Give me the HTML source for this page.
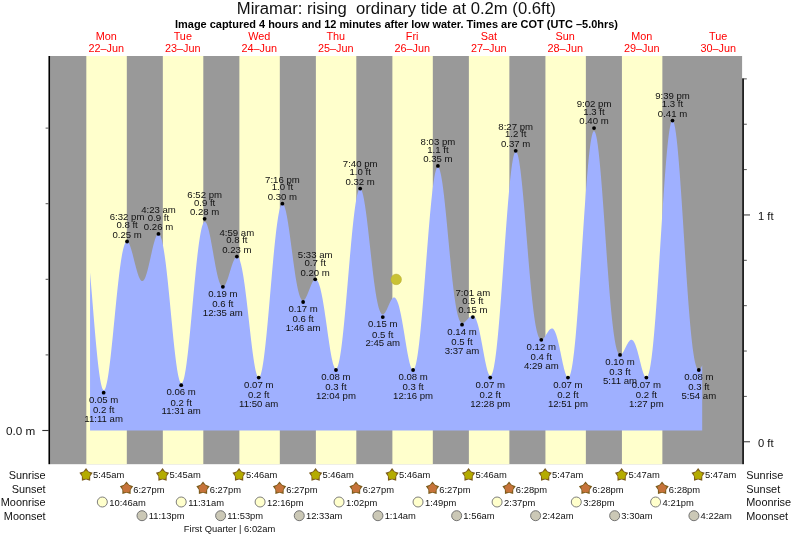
<!DOCTYPE html>
<html><head><meta charset="utf-8"><title>Miramar tide times</title>
<style>html,body{margin:0;padding:0;background:#fff}svg{display:block}text{font-family:"Liberation Sans",Arial,Helvetica,sans-serif}</style></head><body>
<svg width="793" height="537" viewBox="0 0 793 537">
<rect x="0" y="0" width="793" height="537" fill="#fff"/>
<rect x="50.3" y="56.0" width="691.8" height="408.2" fill="#999"/>
<rect x="86.33" y="56.0" width="40.48" height="408.2" fill="#ffffcc"/>
<rect x="162.83" y="56.0" width="40.48" height="408.2" fill="#ffffcc"/>
<rect x="239.38" y="56.0" width="40.43" height="408.2" fill="#ffffcc"/>
<rect x="315.88" y="56.0" width="40.43" height="408.2" fill="#ffffcc"/>
<rect x="392.38" y="56.0" width="40.43" height="408.2" fill="#ffffcc"/>
<rect x="468.88" y="56.0" width="40.48" height="408.2" fill="#ffffcc"/>
<rect x="545.43" y="56.0" width="40.43" height="408.2" fill="#ffffcc"/>
<rect x="621.93" y="56.0" width="40.43" height="408.2" fill="#ffffcc"/>
<polygon points="90.05,430.50 90.05,272.60 90.55,278.44 91.05,284.40 91.55,290.43 92.05,296.53 92.55,302.66 93.05,308.79 93.55,314.89 94.05,320.93 94.55,326.89 95.05,332.73 95.55,338.43 96.05,343.95 96.55,349.27 97.05,354.36 97.55,359.19 98.05,363.75 98.55,368.00 99.05,371.94 99.55,375.52 100.05,378.75 100.55,381.60 101.05,384.06 101.55,386.11 102.05,387.76 102.55,388.99 103.05,389.80 103.55,390.18 104.05,390.15 104.55,389.71 105.05,388.89 105.55,387.67 106.05,386.07 106.55,384.11 107.05,381.80 107.55,379.14 108.05,376.17 108.55,372.89 109.05,369.34 109.55,365.52 110.05,361.46 110.55,357.18 111.05,352.71 111.55,348.07 112.05,343.30 112.55,338.40 113.05,333.41 113.55,328.36 114.05,323.26 114.55,318.15 115.05,313.04 115.55,307.97 116.05,302.96 116.55,298.03 117.05,293.20 117.55,288.49 118.05,283.92 118.55,279.52 119.05,275.30 119.55,271.28 120.05,267.47 120.55,263.88 121.05,260.54 121.55,257.44 122.05,254.61 122.55,252.04 123.05,249.75 123.55,247.74 124.05,246.01 124.55,244.56 125.05,243.40 125.55,242.51 126.05,241.91 126.55,241.57 127.05,241.50 127.55,241.67 128.05,242.09 128.55,242.72 129.05,243.57 129.55,244.61 130.05,245.83 130.55,247.21 131.05,248.74 131.55,250.40 132.05,252.16 132.55,254.01 133.05,255.93 133.55,257.90 134.05,259.90 134.55,261.91 135.05,263.90 135.55,265.86 136.05,267.78 136.55,269.62 137.05,271.37 137.55,273.02 138.05,274.55 138.55,275.95 139.05,277.19 139.55,278.28 140.05,279.21 140.55,279.95 141.05,280.51 141.55,280.88 142.05,281.06 142.55,281.05 143.05,280.83 143.55,280.40 144.05,279.77 144.55,278.94 145.05,277.91 145.55,276.69 146.05,275.31 146.55,273.76 147.05,272.06 147.55,270.23 148.05,268.29 148.55,266.24 149.05,264.12 149.55,261.93 150.05,259.70 150.55,257.44 151.05,255.18 151.55,252.94 152.05,250.73 152.55,248.58 153.05,246.51 153.55,244.53 154.05,242.67 154.55,240.95 155.05,239.37 155.55,237.97 156.05,236.75 156.55,235.73 157.05,234.93 157.55,234.36 158.05,234.03 158.55,233.94 159.05,234.13 159.55,234.58 160.05,235.31 160.55,236.33 161.05,237.63 161.55,239.22 162.05,241.11 162.55,243.28 163.05,245.73 163.55,248.47 164.05,251.48 164.55,254.75 165.05,258.28 165.55,262.06 166.05,266.06 166.55,270.28 167.05,274.70 167.55,279.29 168.05,284.05 168.55,288.95 169.05,293.96 169.55,299.06 170.05,304.23 170.55,309.45 171.05,314.68 171.55,319.90 172.05,325.08 172.55,330.20 173.05,335.22 173.55,340.13 174.05,344.89 174.55,349.47 175.05,353.85 175.55,358.01 176.05,361.92 176.55,365.56 177.05,368.91 177.55,371.95 178.05,374.66 178.55,377.02 179.05,379.02 179.55,380.66 180.05,381.91 180.55,382.78 181.05,383.26 181.55,383.34 182.05,383.02 182.55,382.31 183.05,381.22 183.55,379.74 184.05,377.88 184.55,375.66 185.05,373.09 185.55,370.18 186.05,366.95 186.55,363.41 187.05,359.58 187.55,355.49 188.05,351.15 188.55,346.58 189.05,341.82 189.55,336.88 190.05,331.79 190.55,326.57 191.05,321.25 191.55,315.86 192.05,310.42 192.55,304.95 193.05,299.49 193.55,294.05 194.05,288.66 194.55,283.35 195.05,278.14 195.55,273.05 196.05,268.11 196.55,263.33 197.05,258.74 197.55,254.35 198.05,250.19 198.55,246.27 199.05,242.60 199.55,239.20 200.05,236.08 200.55,233.25 201.05,230.72 201.55,228.51 202.05,226.60 202.55,225.02 203.05,223.75 203.55,222.80 204.05,222.18 204.55,221.87 205.05,221.86 205.55,222.15 206.05,222.73 206.55,223.58 207.05,224.70 207.55,226.07 208.05,227.67 208.55,229.49 209.05,231.50 209.55,233.70 210.05,236.06 210.55,238.56 211.05,241.17 211.55,243.88 212.05,246.66 212.55,249.49 213.05,252.35 213.55,255.21 214.05,258.05 214.55,260.85 215.05,263.59 215.55,266.25 216.05,268.80 216.55,271.24 217.05,273.55 217.55,275.70 218.05,277.69 218.55,279.50 219.05,281.13 219.55,282.56 220.05,283.79 220.55,284.82 221.05,285.64 221.55,286.25 222.05,286.65 222.55,286.84 223.05,286.83 223.55,286.63 224.05,286.24 224.55,285.67 225.05,284.93 225.55,284.04 226.05,283.00 226.55,281.83 227.05,280.55 227.55,279.16 228.05,277.70 228.55,276.16 229.05,274.58 229.55,272.96 230.05,271.34 230.55,269.71 231.05,268.11 231.55,266.54 232.05,265.03 232.55,263.60 233.05,262.26 233.55,261.02 234.05,259.91 234.55,258.94 235.05,258.11 235.55,257.46 236.05,256.98 236.55,256.70 237.05,256.62 237.55,256.76 238.05,257.13 238.55,257.74 239.05,258.61 239.55,259.72 240.05,261.08 240.55,262.70 241.05,264.57 241.55,266.70 242.05,269.07 242.55,271.68 243.05,274.53 243.55,277.60 244.05,280.89 244.55,284.37 245.05,288.05 245.55,291.89 246.05,295.89 246.55,300.02 247.05,304.27 247.55,308.61 248.05,313.01 248.55,317.46 249.05,321.94 249.55,326.40 250.05,330.84 250.55,335.22 251.05,339.51 251.55,343.70 252.05,347.74 252.55,351.63 253.05,355.32 253.55,358.81 254.05,362.06 254.55,365.05 255.05,367.76 255.55,370.18 256.05,372.27 256.55,374.04 257.05,375.47 257.55,376.53 258.05,377.23 258.55,377.56 259.05,377.50 259.55,377.06 260.05,376.24 260.55,375.04 261.05,373.46 261.55,371.51 262.05,369.20 262.55,366.53 263.05,363.51 263.55,360.17 264.05,356.51 264.55,352.55 265.05,348.32 265.55,343.83 266.05,339.10 266.55,334.15 267.05,329.01 267.55,323.70 268.05,318.25 268.55,312.67 269.05,307.01 269.55,301.27 270.05,295.50 270.55,289.70 271.05,283.92 271.55,278.17 272.05,272.49 272.55,266.89 273.05,261.40 273.55,256.05 274.05,250.85 274.55,245.83 275.05,241.02 275.55,236.43 276.05,232.08 276.55,227.99 277.05,224.17 277.55,220.65 278.05,217.43 278.55,214.54 279.05,211.97 279.55,209.73 280.05,207.85 280.55,206.31 281.05,205.12 281.55,204.30 282.05,203.82 282.55,203.70 283.05,203.93 283.55,204.50 284.05,205.40 284.55,206.62 285.05,208.15 285.55,209.98 286.05,212.09 286.55,214.47 287.05,217.08 287.55,219.93 288.05,222.97 288.55,226.20 289.05,229.58 289.55,233.09 290.05,236.72 290.55,240.42 291.05,244.19 291.55,247.98 292.05,251.79 292.55,255.57 293.05,259.32 293.55,263.00 294.05,266.60 294.55,270.09 295.05,273.45 295.55,276.67 296.05,279.72 296.55,282.60 297.05,285.29 297.55,287.77 298.05,290.05 298.55,292.11 299.05,293.94 299.55,295.54 300.05,296.92 300.55,298.06 301.05,298.98 301.55,299.68 302.05,300.15 302.55,300.42 303.05,300.48 303.55,300.34 304.05,300.03 304.55,299.56 305.05,298.92 305.55,298.15 306.05,297.26 306.55,296.25 307.05,295.16 307.55,293.99 308.05,292.76 308.55,291.50 309.05,290.21 309.55,288.92 310.05,287.65 310.55,286.41 311.05,285.21 311.55,284.08 312.05,283.04 312.55,282.09 313.05,281.25 313.55,280.55 314.05,279.99 314.55,279.58 315.05,279.34 315.55,279.27 316.05,279.38 316.55,279.67 317.05,280.16 317.55,280.85 318.05,281.73 318.55,282.83 319.05,284.13 319.55,285.64 320.05,287.36 320.55,289.28 321.05,291.40 321.55,293.71 322.05,296.20 322.55,298.87 323.05,301.71 323.55,304.69 324.05,307.81 324.55,311.05 325.05,314.39 325.55,317.81 326.05,321.29 326.55,324.81 327.05,328.36 327.55,331.90 328.05,335.40 328.55,338.86 329.05,342.24 329.55,345.52 330.05,348.67 330.55,351.67 331.05,354.50 331.55,357.14 332.05,359.55 332.55,361.73 333.05,363.64 333.55,365.28 334.05,366.62 334.55,367.66 335.05,368.37 335.55,368.75 336.05,368.79 336.55,368.48 337.05,367.82 337.55,366.80 338.05,365.42 338.55,363.69 339.05,361.60 339.55,359.17 340.05,356.40 340.55,353.30 341.05,349.88 341.55,346.16 342.05,342.15 342.55,337.86 343.05,333.32 343.55,328.54 344.05,323.55 344.55,318.36 345.05,313.00 345.55,307.49 346.05,301.85 346.55,296.12 347.05,290.31 347.55,284.44 348.05,278.56 348.55,272.67 349.05,266.81 349.55,261.00 350.05,255.27 350.55,249.63 351.05,244.12 351.55,238.76 352.05,233.57 352.55,228.58 353.05,223.80 353.55,219.25 354.05,214.96 354.55,210.95 355.05,207.22 355.55,203.80 356.05,200.70 356.55,197.93 357.05,195.50 357.55,193.43 358.05,191.72 358.55,190.38 359.05,189.40 359.55,188.80 360.05,188.58 360.55,188.72 361.05,189.24 361.55,190.13 362.05,191.39 362.55,192.99 363.05,194.93 363.55,197.20 364.05,199.77 364.55,202.64 365.05,205.78 365.55,209.16 366.05,212.78 366.55,216.61 367.05,220.61 367.55,224.78 368.05,229.07 368.55,233.47 369.05,237.94 369.55,242.47 370.05,247.02 370.55,251.57 371.05,256.10 371.55,260.57 372.05,264.97 372.55,269.27 373.05,273.45 373.55,277.50 374.05,281.39 374.55,285.10 375.05,288.62 375.55,291.95 376.05,295.06 376.55,297.94 377.05,300.60 377.55,303.02 378.05,305.21 378.55,307.15 379.05,308.85 379.55,310.32 380.05,311.55 380.55,312.55 381.05,313.33 381.55,313.90 382.05,314.26 382.55,314.44 383.05,314.42 383.55,314.23 384.05,313.86 384.55,313.33 385.05,312.66 385.55,311.87 386.05,310.97 386.55,309.98 387.05,308.93 387.55,307.83 388.05,306.69 388.55,305.55 389.05,304.41 389.55,303.31 390.05,302.25 390.55,301.25 391.05,300.34 391.55,299.53 392.05,298.83 392.55,298.26 393.05,297.84 393.55,297.58 394.05,297.49 394.55,297.57 395.05,297.84 395.55,298.28 396.05,298.91 396.55,299.72 397.05,300.72 397.55,301.91 398.05,303.29 398.55,304.86 399.05,306.62 399.55,308.56 400.05,310.66 400.55,312.93 401.05,315.36 401.55,317.92 402.05,320.61 402.55,323.42 403.05,326.31 403.55,329.28 404.05,332.31 404.55,335.37 405.05,338.44 405.55,341.50 406.05,344.53 406.55,347.49 407.05,350.38 407.55,353.16 408.05,355.80 408.55,358.29 409.05,360.59 409.55,362.70 410.05,364.58 410.55,366.21 411.05,367.57 411.55,368.65 412.05,369.43 412.55,369.89 413.05,370.03 413.55,369.82 414.05,369.26 414.55,368.34 415.05,367.07 415.55,365.42 416.05,363.42 416.55,361.05 417.05,358.32 417.55,355.24 418.05,351.82 418.55,348.06 419.05,343.97 419.55,339.58 420.05,334.90 420.55,329.95 421.05,324.73 421.55,319.28 422.05,313.62 422.55,307.77 423.05,301.74 423.55,295.58 424.05,289.29 424.55,282.92 425.05,276.47 425.55,269.99 426.05,263.50 426.55,257.02 427.05,250.58 427.55,244.21 428.05,237.93 428.55,231.78 429.05,225.78 429.55,219.94 430.05,214.31 430.55,208.89 431.05,203.73 431.55,198.82 432.05,194.21 432.55,189.90 433.05,185.92 433.55,182.29 434.05,179.01 434.55,176.11 435.05,173.59 435.55,171.47 436.05,169.76 436.55,168.46 437.05,167.57 437.55,167.11 438.05,167.06 438.55,167.43 439.05,168.21 439.55,169.39 440.05,170.97 440.55,172.93 441.05,175.26 441.55,177.95 442.05,180.98 442.55,184.33 443.05,187.99 443.55,191.93 444.05,196.12 444.55,200.55 445.05,205.19 445.55,210.01 446.05,214.99 446.55,220.09 447.05,225.29 447.55,230.56 448.05,235.88 448.55,241.21 449.05,246.52 449.55,251.80 450.05,257.01 450.55,262.12 451.05,267.13 451.55,272.00 452.05,276.72 452.55,281.26 453.05,285.60 453.55,289.74 454.05,293.66 454.55,297.35 455.05,300.80 455.55,304.00 456.05,306.95 456.55,309.64 457.05,312.07 457.55,314.25 458.05,316.17 458.55,317.84 459.05,319.26 459.55,320.45 460.05,321.40 460.55,322.14 461.05,322.67 461.55,323.00 462.05,323.15 462.55,323.16 463.05,323.05 463.55,322.85 464.05,322.56 464.55,322.20 465.05,321.78 465.55,321.32 466.05,320.82 466.55,320.30 467.05,319.76 467.55,319.21 468.05,318.68 468.55,318.16 469.05,317.66 469.55,317.19 470.05,316.77 470.55,316.39 471.05,316.08 471.55,315.84 472.05,315.67 472.55,315.59 473.05,315.61 473.55,315.78 474.05,316.12 474.55,316.64 475.05,317.33 475.55,318.21 476.05,319.28 476.55,320.53 477.05,321.96 477.55,323.56 478.05,325.34 478.55,327.28 479.05,329.37 479.55,331.60 480.05,333.96 480.55,336.43 481.05,338.99 481.55,341.63 482.05,344.32 482.55,347.05 483.05,349.79 483.55,352.52 484.05,355.21 484.55,357.84 485.05,360.38 485.55,362.82 486.05,365.11 486.55,367.25 487.05,369.20 487.55,370.94 488.05,372.44 488.55,373.69 489.05,374.67 489.55,375.35 490.05,375.71 490.55,375.75 491.05,375.46 491.55,374.82 492.05,373.83 492.55,372.47 493.05,370.75 493.55,368.66 494.05,366.20 494.55,363.37 495.05,360.17 495.55,356.61 496.05,352.70 496.55,348.44 497.05,343.86 497.55,338.97 498.05,333.77 498.55,328.29 499.05,322.55 499.55,316.57 500.05,310.36 500.55,303.97 501.05,297.40 501.55,290.68 502.05,283.85 502.55,276.92 503.05,269.92 503.55,262.89 504.05,255.85 504.55,248.83 505.05,241.85 505.55,234.95 506.05,228.16 506.55,221.50 507.05,214.99 507.55,208.68 508.05,202.58 508.55,196.72 509.05,191.12 509.55,185.81 510.05,180.82 510.55,176.15 511.05,171.85 511.55,167.91 512.05,164.36 512.55,161.22 513.05,158.51 513.55,156.22 514.05,154.38 514.55,152.99 515.05,152.06 515.55,151.58 516.05,151.57 516.55,152.02 517.05,152.91 517.55,154.26 518.05,156.04 518.55,158.25 519.05,160.87 519.55,163.90 520.05,167.32 520.55,171.10 521.05,175.22 521.55,179.67 522.05,184.42 522.55,189.44 523.05,194.71 523.55,200.20 524.05,205.87 524.55,211.71 525.05,217.67 525.55,223.74 526.05,229.87 526.55,236.03 527.05,242.21 527.55,248.36 528.05,254.47 528.55,260.49 529.05,266.41 529.55,272.20 530.05,277.84 530.55,283.30 531.05,288.57 531.55,293.63 532.05,298.45 532.55,303.04 533.05,307.36 533.55,311.43 534.05,315.22 534.55,318.73 535.05,321.95 535.55,324.90 536.05,327.55 536.55,329.93 537.05,332.03 537.55,333.85 538.05,335.41 538.55,336.71 539.05,337.77 539.55,338.59 540.05,339.18 540.55,339.56 541.05,339.75 541.55,339.76 542.05,339.62 542.55,339.33 543.05,338.93 543.55,338.41 544.05,337.81 544.55,337.13 545.05,336.40 545.55,335.63 546.05,334.83 546.55,334.02 547.05,333.21 547.55,332.43 548.05,331.68 548.55,330.97 549.05,330.33 549.55,329.76 550.05,329.28 550.55,328.90 551.05,328.63 551.55,328.47 552.05,328.45 552.55,328.57 553.05,328.87 553.55,329.34 554.05,329.99 554.55,330.81 555.05,331.82 555.55,333.00 556.05,334.35 556.55,335.87 557.05,337.55 557.55,339.37 558.05,341.33 558.55,343.41 559.05,345.59 559.55,347.86 560.05,350.20 560.55,352.58 561.05,354.99 561.55,357.41 562.05,359.79 562.55,362.14 563.05,364.41 563.55,366.58 564.05,368.63 564.55,370.53 565.05,372.25 565.55,373.77 566.05,375.07 566.55,376.13 567.05,376.91 567.55,377.40 568.05,377.59 568.55,377.45 569.05,376.98 569.55,376.16 570.05,374.97 570.55,373.42 571.05,371.49 571.55,369.18 572.05,366.48 572.55,363.41 573.05,359.95 573.55,356.11 574.05,351.91 574.55,347.34 575.05,342.43 575.55,337.18 576.05,331.62 576.55,325.75 577.05,319.60 577.55,313.19 578.05,306.54 578.55,299.67 579.05,292.61 579.55,285.38 580.05,278.02 580.55,270.55 581.05,262.99 581.55,255.39 582.05,247.76 582.55,240.13 583.05,232.55 583.55,225.03 584.05,217.61 584.55,210.32 585.05,203.19 585.55,196.24 586.05,189.52 586.55,183.03 587.05,176.82 587.55,170.92 588.05,165.33 588.55,160.10 589.05,155.24 589.55,150.77 590.05,146.72 590.55,143.11 591.05,139.95 591.55,137.25 592.05,135.03 592.55,133.30 593.05,132.07 593.55,131.34 594.05,131.12 594.55,131.41 595.05,132.21 595.55,133.51 596.05,135.30 596.55,137.58 597.05,140.33 597.55,143.55 598.05,147.21 598.55,151.29 599.05,155.78 599.55,160.66 600.05,165.89 600.55,171.45 601.05,177.31 601.55,183.44 602.05,189.82 602.55,196.40 603.05,203.17 603.55,210.07 604.05,217.09 604.55,224.18 605.05,231.31 605.55,238.46 606.05,245.58 606.55,252.65 607.05,259.64 607.55,266.51 608.05,273.24 608.55,279.81 609.05,286.19 609.55,292.35 610.05,298.28 610.55,303.96 611.05,309.38 611.55,314.50 612.05,319.34 612.55,323.87 613.05,328.09 613.55,332.00 614.05,335.58 614.55,338.84 615.05,341.78 615.55,344.40 616.05,346.71 616.55,348.71 617.05,350.41 617.55,351.81 618.05,352.94 618.55,353.80 619.05,354.40 619.55,354.76 620.05,354.90 620.55,354.84 621.05,354.60 621.55,354.21 622.05,353.68 622.55,353.02 623.05,352.27 623.55,351.42 624.05,350.51 624.55,349.55 625.05,348.55 625.55,347.54 626.05,346.53 626.55,345.53 627.05,344.57 627.55,343.66 628.05,342.82 628.55,342.05 629.05,341.38 629.55,340.80 630.05,340.35 630.55,340.02 631.05,339.82 631.55,339.77 632.05,339.88 632.55,340.15 633.05,340.59 633.55,341.19 634.05,341.96 634.55,342.90 635.05,344.00 635.55,345.25 636.05,346.64 636.55,348.17 637.05,349.81 637.55,351.57 638.05,353.41 638.55,355.33 639.05,357.30 639.55,359.31 640.05,361.32 640.55,363.33 641.05,365.30 641.55,367.20 642.05,369.02 642.55,370.73 643.05,372.31 643.55,373.73 644.05,374.96 644.55,375.98 645.05,376.77 645.55,377.30 646.05,377.57 646.55,377.53 647.05,377.19 647.55,376.51 648.05,375.48 648.55,374.10 649.05,372.35 649.55,370.22 650.05,367.71 650.55,364.82 651.05,361.55 651.55,357.90 652.05,353.86 652.55,349.46 653.05,344.70 653.55,339.58 654.05,334.13 654.55,328.35 655.05,322.27 655.55,315.90 656.05,309.26 656.55,302.38 657.05,295.27 657.55,287.97 658.05,280.50 658.55,272.88 659.05,265.15 659.55,257.33 660.05,249.45 660.55,241.55 661.05,233.65 661.55,225.79 662.05,217.99 662.55,210.29 663.05,202.72 663.55,195.31 664.05,188.10 664.55,181.10 665.05,174.36 665.55,167.90 666.05,161.76 666.55,155.94 667.05,150.50 667.55,145.44 668.05,140.79 668.55,136.58 669.05,132.83 669.55,129.55 670.05,126.75 670.55,124.46 671.05,122.69 671.55,121.44 672.05,120.73 672.55,120.55 673.05,120.91 673.55,121.81 674.05,123.26 674.55,125.24 675.05,127.74 675.55,130.76 676.05,134.27 676.55,138.27 677.05,142.72 677.55,147.62 678.05,152.93 678.55,158.64 679.05,164.70 679.55,171.09 680.05,177.79 680.55,184.75 681.05,191.95 681.55,199.34 682.05,206.90 682.55,214.58 683.05,222.36 683.55,230.20 684.05,238.06 684.55,245.91 685.05,253.71 685.55,261.43 686.05,269.04 686.55,276.52 687.05,283.82 687.55,290.93 688.05,297.82 688.55,304.47 689.05,310.86 689.55,316.96 690.05,322.76 690.55,328.25 691.05,333.42 691.55,338.25 692.05,342.74 692.55,346.88 693.05,350.66 693.55,354.09 694.05,357.17 694.55,359.90 695.05,362.29 695.55,364.33 696.05,366.04 696.55,367.43 697.05,368.51 697.55,369.29 698.05,369.78 698.55,370.00 699.05,369.98 699.55,369.71 700.05,369.23 700.55,368.56 701.05,367.70 701.55,366.70 702.05,365.55 702.20,365.18 702.20,430.50" fill="#9fb0ff"/>
<rect x="48.45" y="56.0" width="1.75" height="408.2" fill="#000"/>
<rect x="742.1" y="78.3" width="1.9" height="385.9" fill="#222"/>
<rect x="42.3" y="429.95" width="6.5" height="1.1" fill="#333"/>
<rect x="45.6" y="354.40" width="3.2" height="1" fill="#555"/>
<rect x="45.6" y="278.80" width="3.2" height="1" fill="#555"/>
<rect x="45.6" y="203.20" width="3.2" height="1" fill="#555"/>
<rect x="45.6" y="127.60" width="3.2" height="1" fill="#555"/>
<rect x="744" y="441.20" width="6" height="1.1" fill="#444"/>
<rect x="744" y="395.89" width="2.8" height="1" fill="#555"/>
<rect x="744" y="350.53" width="2.8" height="1" fill="#555"/>
<rect x="744" y="305.17" width="2.8" height="1" fill="#555"/>
<rect x="744" y="259.81" width="2.8" height="1" fill="#555"/>
<rect x="744" y="214.40" width="6" height="1.1" fill="#444"/>
<rect x="744" y="169.09" width="2.8" height="1" fill="#555"/>
<rect x="744" y="123.73" width="2.8" height="1" fill="#555"/>
<rect x="744" y="78.37" width="2.8" height="1" fill="#555"/>
<text x="35.3" y="434.8" font-size="11.7" text-anchor="end" fill="#111">0.0 m</text>
<text x="758" y="446.6" font-size="11.2" fill="#111">0 ft</text>
<text x="758" y="219.8" font-size="11.2" fill="#111">1 ft</text>
<text x="396.3" y="13.9" font-size="16.65" text-anchor="middle" fill="#111" xml:space="preserve" style="white-space:pre">Miramar: rising  ordinary tide at 0.2m (0.6ft)</text>
<text x="396.5" y="27.6" font-size="10.96" font-weight="bold" text-anchor="middle" fill="#000">Image captured 4 hours and 12 minutes after low water. Times are COT (UTC –5.0hrs)</text>
<text x="106.2" y="39.9" font-size="10.85" text-anchor="middle" fill="#f00">Mon</text>
<text x="106.2" y="51.5" font-size="10.85" text-anchor="middle" fill="#f00">22–Jun</text>
<text x="182.8" y="39.9" font-size="10.85" text-anchor="middle" fill="#f00">Tue</text>
<text x="182.8" y="51.5" font-size="10.85" text-anchor="middle" fill="#f00">23–Jun</text>
<text x="259.2" y="39.9" font-size="10.85" text-anchor="middle" fill="#f00">Wed</text>
<text x="259.2" y="51.5" font-size="10.85" text-anchor="middle" fill="#f00">24–Jun</text>
<text x="335.8" y="39.9" font-size="10.85" text-anchor="middle" fill="#f00">Thu</text>
<text x="335.8" y="51.5" font-size="10.85" text-anchor="middle" fill="#f00">25–Jun</text>
<text x="412.2" y="39.9" font-size="10.85" text-anchor="middle" fill="#f00">Fri</text>
<text x="412.2" y="51.5" font-size="10.85" text-anchor="middle" fill="#f00">26–Jun</text>
<text x="488.8" y="39.9" font-size="10.85" text-anchor="middle" fill="#f00">Sat</text>
<text x="488.8" y="51.5" font-size="10.85" text-anchor="middle" fill="#f00">27–Jun</text>
<text x="565.2" y="39.9" font-size="10.85" text-anchor="middle" fill="#f00">Sun</text>
<text x="565.2" y="51.5" font-size="10.85" text-anchor="middle" fill="#f00">28–Jun</text>
<text x="641.8" y="39.9" font-size="10.85" text-anchor="middle" fill="#f00">Mon</text>
<text x="641.8" y="51.5" font-size="10.85" text-anchor="middle" fill="#f00">29–Jun</text>
<text x="718.2" y="39.9" font-size="10.85" text-anchor="middle" fill="#f00">Tue</text>
<text x="718.2" y="51.5" font-size="10.85" text-anchor="middle" fill="#f00">30–Jun</text>
<circle cx="103.65" cy="392.70" r="1.9" fill="#000"/>
<text x="103.65" y="402.90" font-size="9.6" text-anchor="middle" fill="#111">0.05 m</text>
<text x="103.65" y="413.10" font-size="9.6" text-anchor="middle" fill="#111">0.2 ft</text>
<text x="103.65" y="421.70" font-size="9.6" text-anchor="middle" fill="#111">11:11 am</text>
<circle cx="127.08" cy="241.50" r="1.9" fill="#000"/>
<text x="127.08" y="237.80" font-size="9.6" text-anchor="middle" fill="#111">0.25 m</text>
<text x="127.08" y="228.20" font-size="9.6" text-anchor="middle" fill="#111">0.8 ft</text>
<text x="127.08" y="220.40" font-size="9.6" text-anchor="middle" fill="#111">6:32 pm</text>
<circle cx="158.47" cy="233.94" r="1.9" fill="#000"/>
<text x="158.47" y="230.24" font-size="9.6" text-anchor="middle" fill="#111">0.26 m</text>
<text x="158.47" y="220.64" font-size="9.6" text-anchor="middle" fill="#111">0.9 ft</text>
<text x="158.47" y="212.84" font-size="9.6" text-anchor="middle" fill="#111">4:23 am</text>
<circle cx="181.21" cy="385.14" r="1.9" fill="#000"/>
<text x="181.21" y="395.34" font-size="9.6" text-anchor="middle" fill="#111">0.06 m</text>
<text x="181.21" y="405.54" font-size="9.6" text-anchor="middle" fill="#111">0.2 ft</text>
<text x="181.21" y="414.14" font-size="9.6" text-anchor="middle" fill="#111">11:31 am</text>
<circle cx="204.64" cy="218.82" r="1.9" fill="#000"/>
<text x="204.64" y="215.12" font-size="9.6" text-anchor="middle" fill="#111">0.28 m</text>
<text x="204.64" y="205.52" font-size="9.6" text-anchor="middle" fill="#111">0.9 ft</text>
<text x="204.64" y="197.72" font-size="9.6" text-anchor="middle" fill="#111">6:52 pm</text>
<circle cx="222.86" cy="286.86" r="1.9" fill="#000"/>
<text x="222.86" y="297.06" font-size="9.6" text-anchor="middle" fill="#111">0.19 m</text>
<text x="222.86" y="307.26" font-size="9.6" text-anchor="middle" fill="#111">0.6 ft</text>
<text x="222.86" y="315.86" font-size="9.6" text-anchor="middle" fill="#111">12:35 am</text>
<circle cx="236.88" cy="256.62" r="1.9" fill="#000"/>
<text x="236.88" y="252.92" font-size="9.6" text-anchor="middle" fill="#111">0.23 m</text>
<text x="236.88" y="243.32" font-size="9.6" text-anchor="middle" fill="#111">0.8 ft</text>
<text x="236.88" y="235.52" font-size="9.6" text-anchor="middle" fill="#111">4:59 am</text>
<circle cx="258.72" cy="377.58" r="1.9" fill="#000"/>
<text x="258.72" y="387.78" font-size="9.6" text-anchor="middle" fill="#111">0.07 m</text>
<text x="258.72" y="397.98" font-size="9.6" text-anchor="middle" fill="#111">0.2 ft</text>
<text x="258.72" y="406.58" font-size="9.6" text-anchor="middle" fill="#111">11:50 am</text>
<circle cx="282.41" cy="203.70" r="1.9" fill="#000"/>
<text x="282.41" y="200.00" font-size="9.6" text-anchor="middle" fill="#111">0.30 m</text>
<text x="282.41" y="190.40" font-size="9.6" text-anchor="middle" fill="#111">1.0 ft</text>
<text x="282.41" y="182.60" font-size="9.6" text-anchor="middle" fill="#111">7:16 pm</text>
<circle cx="303.13" cy="301.98" r="1.9" fill="#000"/>
<text x="303.13" y="312.18" font-size="9.6" text-anchor="middle" fill="#111">0.17 m</text>
<text x="303.13" y="322.38" font-size="9.6" text-anchor="middle" fill="#111">0.6 ft</text>
<text x="303.13" y="330.98" font-size="9.6" text-anchor="middle" fill="#111">1:46 am</text>
<circle cx="315.19" cy="279.30" r="1.9" fill="#000"/>
<text x="315.19" y="275.60" font-size="9.6" text-anchor="middle" fill="#111">0.20 m</text>
<text x="315.19" y="266.00" font-size="9.6" text-anchor="middle" fill="#111">0.7 ft</text>
<text x="315.19" y="258.20" font-size="9.6" text-anchor="middle" fill="#111">5:33 am</text>
<circle cx="335.96" cy="370.02" r="1.9" fill="#000"/>
<text x="335.96" y="380.22" font-size="9.6" text-anchor="middle" fill="#111">0.08 m</text>
<text x="335.96" y="390.42" font-size="9.6" text-anchor="middle" fill="#111">0.3 ft</text>
<text x="335.96" y="399.02" font-size="9.6" text-anchor="middle" fill="#111">12:04 pm</text>
<circle cx="360.19" cy="188.58" r="1.9" fill="#000"/>
<text x="360.19" y="184.88" font-size="9.6" text-anchor="middle" fill="#111">0.32 m</text>
<text x="360.19" y="175.28" font-size="9.6" text-anchor="middle" fill="#111">1.0 ft</text>
<text x="360.19" y="167.48" font-size="9.6" text-anchor="middle" fill="#111">7:40 pm</text>
<circle cx="382.77" cy="317.10" r="1.9" fill="#000"/>
<text x="382.77" y="327.30" font-size="9.6" text-anchor="middle" fill="#111">0.15 m</text>
<text x="382.77" y="337.50" font-size="9.6" text-anchor="middle" fill="#111">0.5 ft</text>
<text x="382.77" y="346.10" font-size="9.6" text-anchor="middle" fill="#111">2:45 am</text>
<circle cx="413.10" cy="370.02" r="1.9" fill="#000"/>
<text x="413.10" y="380.22" font-size="9.6" text-anchor="middle" fill="#111">0.08 m</text>
<text x="413.10" y="390.42" font-size="9.6" text-anchor="middle" fill="#111">0.3 ft</text>
<text x="413.10" y="399.02" font-size="9.6" text-anchor="middle" fill="#111">12:16 pm</text>
<circle cx="437.91" cy="165.90" r="1.9" fill="#000"/>
<text x="437.91" y="162.20" font-size="9.6" text-anchor="middle" fill="#111">0.35 m</text>
<text x="437.91" y="152.60" font-size="9.6" text-anchor="middle" fill="#111">1.1 ft</text>
<text x="437.91" y="144.80" font-size="9.6" text-anchor="middle" fill="#111">8:03 pm</text>
<circle cx="462.03" cy="324.66" r="1.9" fill="#000"/>
<text x="462.03" y="334.86" font-size="9.6" text-anchor="middle" fill="#111">0.14 m</text>
<text x="462.03" y="345.06" font-size="9.6" text-anchor="middle" fill="#111">0.5 ft</text>
<text x="462.03" y="353.66" font-size="9.6" text-anchor="middle" fill="#111">3:37 am</text>
<circle cx="472.87" cy="317.10" r="1.9" fill="#000"/>
<text x="472.87" y="313.40" font-size="9.6" text-anchor="middle" fill="#111">0.15 m</text>
<text x="472.87" y="303.80" font-size="9.6" text-anchor="middle" fill="#111">0.5 ft</text>
<text x="472.87" y="296.00" font-size="9.6" text-anchor="middle" fill="#111">7:01 am</text>
<circle cx="490.24" cy="377.58" r="1.9" fill="#000"/>
<text x="490.24" y="387.78" font-size="9.6" text-anchor="middle" fill="#111">0.07 m</text>
<text x="490.24" y="397.98" font-size="9.6" text-anchor="middle" fill="#111">0.2 ft</text>
<text x="490.24" y="406.58" font-size="9.6" text-anchor="middle" fill="#111">12:28 pm</text>
<circle cx="515.68" cy="150.78" r="1.9" fill="#000"/>
<text x="515.68" y="147.08" font-size="9.6" text-anchor="middle" fill="#111">0.37 m</text>
<text x="515.68" y="137.48" font-size="9.6" text-anchor="middle" fill="#111">1.2 ft</text>
<text x="515.68" y="129.68" font-size="9.6" text-anchor="middle" fill="#111">8:27 pm</text>
<circle cx="541.29" cy="339.78" r="1.9" fill="#000"/>
<text x="541.29" y="349.98" font-size="9.6" text-anchor="middle" fill="#111">0.12 m</text>
<text x="541.29" y="360.18" font-size="9.6" text-anchor="middle" fill="#111">0.4 ft</text>
<text x="541.29" y="368.78" font-size="9.6" text-anchor="middle" fill="#111">4:29 am</text>
<circle cx="567.96" cy="377.58" r="1.9" fill="#000"/>
<text x="567.96" y="387.78" font-size="9.6" text-anchor="middle" fill="#111">0.07 m</text>
<text x="567.96" y="397.98" font-size="9.6" text-anchor="middle" fill="#111">0.2 ft</text>
<text x="567.96" y="406.58" font-size="9.6" text-anchor="middle" fill="#111">12:51 pm</text>
<circle cx="594.04" cy="128.10" r="1.9" fill="#000"/>
<text x="594.04" y="124.40" font-size="9.6" text-anchor="middle" fill="#111">0.40 m</text>
<text x="594.04" y="114.80" font-size="9.6" text-anchor="middle" fill="#111">1.3 ft</text>
<text x="594.04" y="107.00" font-size="9.6" text-anchor="middle" fill="#111">9:02 pm</text>
<circle cx="620.02" cy="354.90" r="1.9" fill="#000"/>
<text x="620.02" y="365.10" font-size="9.6" text-anchor="middle" fill="#111">0.10 m</text>
<text x="620.02" y="375.30" font-size="9.6" text-anchor="middle" fill="#111">0.3 ft</text>
<text x="620.02" y="383.90" font-size="9.6" text-anchor="middle" fill="#111">5:11 am</text>
<circle cx="646.37" cy="377.58" r="1.9" fill="#000"/>
<text x="646.37" y="387.78" font-size="9.6" text-anchor="middle" fill="#111">0.07 m</text>
<text x="646.37" y="397.98" font-size="9.6" text-anchor="middle" fill="#111">0.2 ft</text>
<text x="646.37" y="406.58" font-size="9.6" text-anchor="middle" fill="#111">1:27 pm</text>
<circle cx="672.51" cy="120.54" r="1.9" fill="#000"/>
<text x="672.51" y="116.84" font-size="9.6" text-anchor="middle" fill="#111">0.41 m</text>
<text x="672.51" y="107.24" font-size="9.6" text-anchor="middle" fill="#111">1.3 ft</text>
<text x="672.51" y="99.44" font-size="9.6" text-anchor="middle" fill="#111">9:39 pm</text>
<circle cx="698.81" cy="370.02" r="1.9" fill="#000"/>
<text x="698.81" y="380.22" font-size="9.6" text-anchor="middle" fill="#111">0.08 m</text>
<text x="698.81" y="390.42" font-size="9.6" text-anchor="middle" fill="#111">0.3 ft</text>
<text x="698.81" y="399.02" font-size="9.6" text-anchor="middle" fill="#111">5:54 am</text>
<circle cx="396.2" cy="279.4" r="5.3" fill="#c9c233" stroke="#b9aa35" stroke-width="0.5"/>
<text x="45.6" y="479.1" font-size="10.9" text-anchor="end" fill="#111">Sunrise</text>
<text x="746.3" y="479.1" font-size="10.9" fill="#111">Sunrise</text>
<text x="45.6" y="492.9" font-size="10.9" text-anchor="end" fill="#111">Sunset</text>
<text x="746.3" y="492.9" font-size="10.9" fill="#111">Sunset</text>
<text x="45.6" y="506.1" font-size="10.9" text-anchor="end" fill="#111">Moonrise</text>
<text x="746.3" y="506.1" font-size="10.9" fill="#111">Moonrise</text>
<text x="45.6" y="519.9" font-size="10.9" text-anchor="end" fill="#111">Moonset</text>
<text x="746.3" y="519.9" font-size="10.9" fill="#111">Moonset</text>
<polygon points="86.03,468.00 88.61,471.44 92.69,472.84 90.21,476.36 90.14,480.66 86.03,479.40 81.91,480.66 81.84,476.36 79.37,472.84 83.44,471.44" fill="#7c5c1c"/><polygon points="86.03,470.20 88.26,471.93 90.59,473.52 89.64,476.17 88.85,478.88 86.03,478.80 83.21,478.88 82.41,476.17 81.46,473.52 83.79,471.93" fill="#b4ab00"/>
<text x="92.93" y="477.6" font-size="9.4" fill="#111">5:45am</text>
<polygon points="162.53,468.00 165.11,471.44 169.19,472.84 166.71,476.36 166.64,480.66 162.53,479.40 158.41,480.66 158.34,476.36 155.87,472.84 159.94,471.44" fill="#7c5c1c"/><polygon points="162.53,470.20 164.76,471.93 167.09,473.52 166.14,476.17 165.35,478.88 162.53,478.80 159.71,478.88 158.91,476.17 157.96,473.52 160.29,471.93" fill="#b4ab00"/>
<text x="169.43" y="477.6" font-size="9.4" fill="#111">5:45am</text>
<polygon points="239.08,468.00 241.67,471.44 245.74,472.84 243.27,476.36 243.20,480.66 239.08,479.40 234.97,480.66 234.90,476.36 232.42,472.84 236.49,471.44" fill="#7c5c1c"/><polygon points="239.08,470.20 241.31,471.93 243.65,473.52 242.70,476.17 241.90,478.88 239.08,478.80 236.26,478.88 235.47,476.17 234.52,473.52 236.85,471.93" fill="#b4ab00"/>
<text x="245.98" y="477.6" font-size="9.4" fill="#111">5:46am</text>
<polygon points="315.58,468.00 318.17,471.44 322.24,472.84 319.77,476.36 319.70,480.66 315.58,479.40 311.47,480.66 311.40,476.36 308.92,472.84 312.99,471.44" fill="#7c5c1c"/><polygon points="315.58,470.20 317.81,471.93 320.15,473.52 319.20,476.17 318.40,478.88 315.58,478.80 312.76,478.88 311.97,476.17 311.02,473.52 313.35,471.93" fill="#b4ab00"/>
<text x="322.48" y="477.6" font-size="9.4" fill="#111">5:46am</text>
<polygon points="392.08,468.00 394.67,471.44 398.74,472.84 396.27,476.36 396.20,480.66 392.08,479.40 387.97,480.66 387.90,476.36 385.42,472.84 389.49,471.44" fill="#7c5c1c"/><polygon points="392.08,470.20 394.31,471.93 396.65,473.52 395.70,476.17 394.90,478.88 392.08,478.80 389.26,478.88 388.47,476.17 387.52,473.52 389.85,471.93" fill="#b4ab00"/>
<text x="398.98" y="477.6" font-size="9.4" fill="#111">5:46am</text>
<polygon points="468.58,468.00 471.17,471.44 475.24,472.84 472.77,476.36 472.70,480.66 468.58,479.40 464.47,480.66 464.40,476.36 461.92,472.84 465.99,471.44" fill="#7c5c1c"/><polygon points="468.58,470.20 470.81,471.93 473.15,473.52 472.20,476.17 471.40,478.88 468.58,478.80 465.76,478.88 464.97,476.17 464.02,473.52 466.35,471.93" fill="#b4ab00"/>
<text x="475.48" y="477.6" font-size="9.4" fill="#111">5:46am</text>
<polygon points="545.13,468.00 547.72,471.44 551.79,472.84 549.32,476.36 549.25,480.66 545.13,479.40 541.02,480.66 540.95,476.36 538.48,472.84 542.55,471.44" fill="#7c5c1c"/><polygon points="545.13,470.20 547.37,471.93 549.70,473.52 548.75,476.17 547.96,478.88 545.13,478.80 542.31,478.88 541.52,476.17 540.57,473.52 542.90,471.93" fill="#b4ab00"/>
<text x="552.03" y="477.6" font-size="9.4" fill="#111">5:47am</text>
<polygon points="621.63,468.00 624.22,471.44 628.29,472.84 625.82,476.36 625.75,480.66 621.63,479.40 617.52,480.66 617.45,476.36 614.98,472.84 619.05,471.44" fill="#7c5c1c"/><polygon points="621.63,470.20 623.87,471.93 626.20,473.52 625.25,476.17 624.46,478.88 621.63,478.80 618.81,478.88 618.02,476.17 617.07,473.52 619.40,471.93" fill="#b4ab00"/>
<text x="628.53" y="477.6" font-size="9.4" fill="#111">5:47am</text>
<polygon points="698.13,468.00 700.72,471.44 704.79,472.84 702.32,476.36 702.25,480.66 698.13,479.40 694.02,480.66 693.95,476.36 691.48,472.84 695.55,471.44" fill="#7c5c1c"/><polygon points="698.13,470.20 700.37,471.93 702.70,473.52 701.75,476.17 700.96,478.88 698.13,478.80 695.31,478.88 694.52,476.17 693.57,473.52 695.90,471.93" fill="#b4ab00"/>
<text x="705.03" y="477.6" font-size="9.4" fill="#111">5:47am</text>
<polygon points="126.51,481.40 129.10,484.84 133.17,486.24 130.69,489.76 130.62,494.06 126.51,492.80 122.39,494.06 122.32,489.76 119.85,486.24 123.92,484.84" fill="#7c5c1c"/><polygon points="126.51,483.60 128.74,485.33 131.07,486.92 130.12,489.57 129.33,492.28 126.51,492.20 123.69,492.28 122.90,489.57 121.94,486.92 124.28,485.33" fill="#c6733a"/>
<text x="133.31" y="492.8" font-size="9.4" fill="#111">6:27pm</text>
<polygon points="203.01,481.40 205.60,484.84 209.67,486.24 207.19,489.76 207.12,494.06 203.01,492.80 198.89,494.06 198.82,489.76 196.35,486.24 200.42,484.84" fill="#7c5c1c"/><polygon points="203.01,483.60 205.24,485.33 207.57,486.92 206.62,489.57 205.83,492.28 203.01,492.20 200.19,492.28 199.40,489.57 198.44,486.92 200.78,485.33" fill="#c6733a"/>
<text x="209.81" y="492.8" font-size="9.4" fill="#111">6:27pm</text>
<polygon points="279.51,481.40 282.10,484.84 286.17,486.24 283.69,489.76 283.62,494.06 279.51,492.80 275.39,494.06 275.32,489.76 272.85,486.24 276.92,484.84" fill="#7c5c1c"/><polygon points="279.51,483.60 281.74,485.33 284.07,486.92 283.12,489.57 282.33,492.28 279.51,492.20 276.69,492.28 275.90,489.57 274.94,486.92 277.28,485.33" fill="#c6733a"/>
<text x="286.31" y="492.8" font-size="9.4" fill="#111">6:27pm</text>
<polygon points="356.01,481.40 358.60,484.84 362.67,486.24 360.19,489.76 360.12,494.06 356.01,492.80 351.89,494.06 351.82,489.76 349.35,486.24 353.42,484.84" fill="#7c5c1c"/><polygon points="356.01,483.60 358.24,485.33 360.57,486.92 359.62,489.57 358.83,492.28 356.01,492.20 353.19,492.28 352.40,489.57 351.44,486.92 353.78,485.33" fill="#c6733a"/>
<text x="362.81" y="492.8" font-size="9.4" fill="#111">6:27pm</text>
<polygon points="432.51,481.40 435.10,484.84 439.17,486.24 436.69,489.76 436.62,494.06 432.51,492.80 428.39,494.06 428.32,489.76 425.85,486.24 429.92,484.84" fill="#7c5c1c"/><polygon points="432.51,483.60 434.74,485.33 437.07,486.92 436.12,489.57 435.33,492.28 432.51,492.20 429.69,492.28 428.90,489.57 427.94,486.92 430.28,485.33" fill="#c6733a"/>
<text x="439.31" y="492.8" font-size="9.4" fill="#111">6:27pm</text>
<polygon points="509.06,481.40 511.65,484.84 515.72,486.24 513.25,489.76 513.18,494.06 509.06,492.80 504.95,494.06 504.88,489.76 502.41,486.24 506.48,484.84" fill="#7c5c1c"/><polygon points="509.06,483.60 511.30,485.33 513.63,486.92 512.68,489.57 511.88,492.28 509.06,492.20 506.24,492.28 505.45,489.57 504.50,486.92 506.83,485.33" fill="#c6733a"/>
<text x="515.86" y="492.8" font-size="9.4" fill="#111">6:28pm</text>
<polygon points="585.56,481.40 588.15,484.84 592.22,486.24 589.75,489.76 589.68,494.06 585.56,492.80 581.45,494.06 581.38,489.76 578.91,486.24 582.98,484.84" fill="#7c5c1c"/><polygon points="585.56,483.60 587.80,485.33 590.13,486.92 589.18,489.57 588.38,492.28 585.56,492.20 582.74,492.28 581.95,489.57 581.00,486.92 583.33,485.33" fill="#c6733a"/>
<text x="592.36" y="492.8" font-size="9.4" fill="#111">6:28pm</text>
<polygon points="662.06,481.40 664.65,484.84 668.72,486.24 666.25,489.76 666.18,494.06 662.06,492.80 657.95,494.06 657.88,489.76 655.41,486.24 659.48,484.84" fill="#7c5c1c"/><polygon points="662.06,483.60 664.30,485.33 666.63,486.92 665.68,489.57 664.88,492.28 662.06,492.20 659.24,492.28 658.45,489.57 657.50,486.92 659.83,485.33" fill="#c6733a"/>
<text x="668.86" y="492.8" font-size="9.4" fill="#111">6:28pm</text>
<circle cx="102.32" cy="502" r="5" fill="#ffffcc" stroke="#777" stroke-width="0.95"/>
<text x="109.32" y="505.9" font-size="9.4" fill="#111">10:46am</text>
<circle cx="181.21" cy="502" r="5" fill="#ffffcc" stroke="#777" stroke-width="0.95"/>
<text x="188.21" y="505.9" font-size="9.4" fill="#111">11:31am</text>
<circle cx="260.10" cy="502" r="5" fill="#ffffcc" stroke="#777" stroke-width="0.95"/>
<text x="267.10" y="505.9" font-size="9.4" fill="#111">12:16pm</text>
<circle cx="339.04" cy="502" r="5" fill="#ffffcc" stroke="#777" stroke-width="0.95"/>
<text x="346.04" y="505.9" font-size="9.4" fill="#111">1:02pm</text>
<circle cx="418.04" cy="502" r="5" fill="#ffffcc" stroke="#777" stroke-width="0.95"/>
<text x="425.04" y="505.9" font-size="9.4" fill="#111">1:49pm</text>
<circle cx="497.09" cy="502" r="5" fill="#ffffcc" stroke="#777" stroke-width="0.95"/>
<text x="504.09" y="505.9" font-size="9.4" fill="#111">2:37pm</text>
<circle cx="576.30" cy="502" r="5" fill="#ffffcc" stroke="#777" stroke-width="0.95"/>
<text x="583.30" y="505.9" font-size="9.4" fill="#111">3:28pm</text>
<circle cx="655.62" cy="502" r="5" fill="#ffffcc" stroke="#777" stroke-width="0.95"/>
<text x="662.62" y="505.9" font-size="9.4" fill="#111">4:21pm</text>
<circle cx="142.00" cy="515.7" r="5" fill="#cbc8b6" stroke="#6e6e6e" stroke-width="0.95"/>
<text x="148.70" y="519.3" font-size="9.4" fill="#111">11:13pm</text>
<circle cx="220.63" cy="515.7" r="5" fill="#cbc8b6" stroke="#6e6e6e" stroke-width="0.95"/>
<text x="227.33" y="519.3" font-size="9.4" fill="#111">11:53pm</text>
<circle cx="299.25" cy="515.7" r="5" fill="#cbc8b6" stroke="#6e6e6e" stroke-width="0.95"/>
<text x="305.95" y="519.3" font-size="9.4" fill="#111">12:33am</text>
<circle cx="377.93" cy="515.7" r="5" fill="#cbc8b6" stroke="#6e6e6e" stroke-width="0.95"/>
<text x="384.63" y="519.3" font-size="9.4" fill="#111">1:14am</text>
<circle cx="456.66" cy="515.7" r="5" fill="#cbc8b6" stroke="#6e6e6e" stroke-width="0.95"/>
<text x="463.36" y="519.3" font-size="9.4" fill="#111">1:56am</text>
<circle cx="535.61" cy="515.7" r="5" fill="#cbc8b6" stroke="#6e6e6e" stroke-width="0.95"/>
<text x="542.31" y="519.3" font-size="9.4" fill="#111">2:42am</text>
<circle cx="614.66" cy="515.7" r="5" fill="#cbc8b6" stroke="#6e6e6e" stroke-width="0.95"/>
<text x="621.36" y="519.3" font-size="9.4" fill="#111">3:30am</text>
<circle cx="693.92" cy="515.7" r="5" fill="#cbc8b6" stroke="#6e6e6e" stroke-width="0.95"/>
<text x="700.62" y="519.3" font-size="9.4" fill="#111">4:22am</text>
<text x="229.6" y="532.2" font-size="9.4" text-anchor="middle" fill="#111">First Quarter | 6:02am</text>
</svg></body></html>
